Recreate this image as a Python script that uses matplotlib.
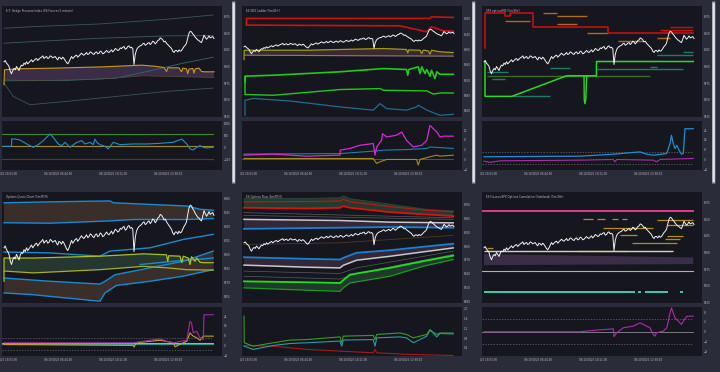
import numpy as np
import matplotlib
matplotlib.use("Agg")
import matplotlib.pyplot as plt
from matplotlib.ticker import MaxNLocator
from matplotlib.transforms import Bbox, TransformedBbox
from matplotlib.patches import FancyBboxPatch

# ---- shared series: ES price (two points per bar) ----
es_price = [6007, 6009, 6005, 6003, 6000, 5993, 5989, 5994, 5997, 5995,
            6000, 5997, 5994, 5999, 6002, 6001, 6005, 6003, 6007, 6004,
            6006, 6008, 6010, 6007, 6009, 6011, 6012, 6009, 6011, 6013,
            6014, 6016, 6012, 6014, 6015, 6012, 6013, 6016, 6015, 6013,
            6014, 6015, 6012, 6010, 6014, 6013, 6011, 6014, 6012, 6009,
            6006, 6004, 6007, 6011, 6015, 6012, 6014, 6016, 6017, 6014,
            6016, 6018, 6020, 6018, 6017, 6019, 6021, 6018, 6019, 6022,
            6021, 6019, 6018, 6021, 6022, 6019, 6020, 6023, 6022, 6019,
            6020, 6022, 6024, 6022, 6021, 6023, 6025, 6022, 6024, 6027,
            6026, 6024, 6025, 6028, 6027, 6029, 6030, 6026, 6027, 6030,
            6031, 6028, 6029, 6027, 6003, 6018, 6025, 6028, 6030, 6031,
            6032, 6034, 6035, 6032, 6033, 6035, 6036, 6033, 6035, 6038,
            6037, 6034, 6036, 6039, 6040, 6043, 6042, 6040, 6037, 6038,
            6035, 6033, 6031, 6029, 6027, 6023, 6021, 6024, 6024, 6022,
            6025, 6023, 6024, 6027, 6030, 6032, 6035, 6043, 6050, 6053,
            6052, 6049, 6047, 6044, 6042, 6040, 6039, 6037, 6036, 6041,
            6047, 6044, 6041, 6043, 6046, 6043, 6044, 6045, 6042]
time_labels = ["06/09/2025 16:53:00", "06/10/2025 06:44:00",
               "06/10/2025 10:11:00", "06/10/2025 13:38:00"]

# ---- panel 1: hedge pressure ----
hp_outer_hi_x = [0, 11.7, 38.4, 65, 83.7]
hp_outer_hi = [6057.5, 6060, 6064, 6071, 6077.5]
hp_inner_hi = [6035, 6037.5, 6042.5, 6046, 6046.5]
hp_inner_lo_x = [0, 25, 45, 58.4, 71.7, 83.7]
hp_inner_lo = [5978.5, 5979, 5982.5, 5993.5, 6005, 6014]
hp_outer_lo_x = [0, 3.7, 10.4, 25, 45, 65, 83.7]
hp_outer_lo = [5975, 5955, 5942.5, 5947.5, 5955, 5962.5, 5967.5]
hp_gold_x = [0, 0.2, 5, 20, 40, 55, 60, 64, 65, 65.5, 70, 71, 71.5, 73, 73.5,
             74, 75.5, 76, 76.5, 78, 79, 80, 84]
hp_gold = [5972.5, 5995, 5996.5, 5997.5, 5999.5, 6002, 6000.5, 5998.5, 5992.5,
           5998, 5998, 5992, 5997.5, 5996.5, 5989, 5996, 5997, 5990, 5996.5,
           5997.5, 5992.5, 5992, 5992]
hp_band_lo_x = [0.2, 11.7, 38.4, 55.7, 84]
hp_band_lo = [5980, 5978.5, 5981, 5986, 5983.5]
hp_idx_x = [0, 3.0, 3.1, 4.4, 6.4, 9.1, 11.7, 13.7, 15.7, 17.7, 18.4, 19.7, 21.7,
            23.1, 24.4, 26.4, 29.1, 31.1, 32.4, 34.4, 35.7, 36.4, 37.1, 38.4,
            40.4, 41.7, 43.7, 46.4, 51.7, 57.1, 62.4, 67.7, 71.1, 73.1, 74.4,
            75.7, 77.1, 78.4, 79.7, 81.1, 83.7]
hp_idx = [54, 54, 354, 354, 313, 150, 14, 122, 286, 490, 558, 422, 150, 82, 218,
          14, 218, 286, 150, 218, 122, 354, 218, 122, 54, -54, 218, 122, 150,
          150, 177, 218, 354, 150, -54, -95, 14, 82, 14, -14, 14]
hp_levels = [560, 50, -460]

# ---- panel 2: GEX ladder ----
gx_red_a_x = [1, 1, 74.4, 75, 83.7]
gx_red_a = [6064, 6081.5, 6081.5, 6085.5, 6084]
gx_red_b_x = [1, 62.4, 73, 75, 77, 79.7, 83.7]
gx_red_b = [6064, 6062, 6046.5, 6059.5, 6055, 6049, 6048]
gx_olive_x = [0, 0.1, 25, 55.7, 65, 65.5, 65.9, 70.4, 71.1, 71.7, 73.7, 74.4, 75,
              78.4, 83.7]
gx_olive = [5973.5, 5998, 5998, 6002.5, 6000, 5991, 5999, 5998, 5989.5, 5998,
            5996.5, 5987.5, 5998, 5994, 5992]
gx_gray_x = [0.1, 83.7]
gx_gray = [5985, 5982.5]
gx_green_a_x = [0.4, 0.4, 11.7, 38.4, 55.7, 65, 65.5, 65.9, 69.7, 70.4, 71.1,
                72.4, 73.1, 74.4, 75, 76.4, 77.1, 78.4, 83.7]
gx_green_a = [5915, 5930, 5932.5, 5941.5, 5950, 5947.5, 5932.5, 5947.5, 5954.5,
              5937, 5954.5, 5937, 5947.5, 5930, 5945.5, 5924, 5941.5, 5935, 5935]
gx_green_b_x = [0.4, 0.4, 11.7, 38.4, 54.4, 55.7, 73.1, 75.7, 78.4, 83.7]
gx_green_b = [5928, 5882, 5880, 5895, 5897.5, 5893, 5891.5, 5883, 5886, 5886]
gx_teal_x = [0.4, 0.4, 3.7, 18.4, 38.4, 51.7, 54.4, 57.1, 65, 69.1, 69.7, 73.1,
             78.4, 83.7]
gx_teal = [5827.5, 5867, 5871.5, 5865, 5849.5, 5841, 5858, 5845, 5841, 5849.5,
           5854, 5841, 5827.5, 5830]
gx_call_x = [0, 11.7, 25, 38.4, 38.5, 42.4, 46.4, 51.7, 52.4, 53.1, 55, 55.4,
             57.1, 61, 63.1, 65, 67.7, 71.1, 73.1, 74.4, 75.7, 77.1, 78.4, 79.7,
             83.7]
gx_call = [1.76, 2.2, 1.35, 1.76, 3.8, 4.5, 5.8, 6.5, 1.76, 5.1, 7.8, 10.5, 9.2,
           9.9, 11.2, 7.8, 5.1, 5.8, 7.8, 13.9, 12.6, 11.2, 9.2, 9.5, 9.5]
gx_blue_x = [0, 38.4, 51.7, 55.7, 65, 73.1, 74.4, 83.7]
gx_blue = [2.2, 2.4, 3.4, 3.8, 4.05, 4.5, 5.1, 4.5]
gx_gold_x = [0, 51.7, 53, 54.4, 57.1, 69, 69.7, 70.4, 74.4, 77.1, 78.4, 83.7]
gx_gold = [0.4, 0.4, -1.6, -0.95, 0, 0, -2.3, 0, 1.1, 1.76, 1.35, 1.76]

# ---- panel 3: SPX options levels ----
sx_red_x = [0.4, 0.4, 8.4, 8.4, 10.4, 10.4, 19.7, 19.7, 49.7, 49.7, 83.7]
sx_red = [6027.5, 6080, 6080, 6076.5, 6076.5, 6080, 6080, 6060, 6060, 6050, 6050]
sx_red_levels = [(74.4, 83.7, 6060), (70.4, 83.7, 6055)]
sx_orange_levels = [(23.7, 29.1, 6081), (29.1, 41.1, 6076), (8.4, 18.4, 6069),
                    (29.1, 37.1, 6064), (41.1, 49.7, 6050), (53.7, 63.7, 6039),
                    (69.1, 74.4, 6042.5)]
sx_teal_levels = [(79.7, 83.7, 6022.5), (69.1, 83.7, 6017.5), (66.4, 69.1, 5999),
                  (26.4, 34.4, 5997.5), (45.1, 79.7, 5996.5), (1.1, 9.7, 5991.5),
                  (3.1, 8.4, 5981), (11.1, 26.4, 5955)]
sx_olive_level = (1.1, 66.4, 5986)
sx_green_x = [0.4, 0.4, 11.1, 33, 45, 45, 83.7]
sx_green = [6007.5, 5955, 5955, 5986, 5986, 6007.5, 6007.5]
sx_spike_x = [40, 40.1, 40.4, 40.7, 41.1]
sx_spike = [5986, 5950, 5944, 5950, 5986]
sx_vol_x = [0, 38.4, 51.7, 62.4, 65, 67.7, 73.1, 74.4, 75, 75.7, 76.4, 77.1,
            78.4, 79, 79.7, 80.4, 83.7]
sx_vol = [2.2, 2.7, 4.3, 6.2, 4.3, 3.5, 4.9, 13, 19.7, 13, 8.9, 11.6, 6.2, 4.3,
          4.9, 25.1, 25.1]
sx_mag_x = [0, 2.4, 6.4, 38.4, 51.7, 52.4, 53.1, 67.7, 69, 70.4, 83.7]
sx_mag = [-1.35, -2.4, -1.1, -0.54, 0, -1.9, 0, -0.54, -1.9, 0, 0.8]
sx_dash_levels = [6.2, -4.05]

# ---- panel 4: options quant ----
qc_blue_a_x = [0, 18.4, 42.4, 43.7, 73.1, 78.4, 83.7]
qc_blue_a = [6055.5, 6056.5, 6057.5, 6055.5, 6052, 6048.5, 6047.5]
qc_blue_b_x = [0, 18.4, 42.4, 51.7, 73.1, 83.7]
qc_blue_b = [6034, 6033.5, 6036, 6037.5, 6037.5, 6038.5]
qc_blue_c_x = [0, 18.4, 38.4, 42.4, 58.4, 71.7, 83.7]
qc_blue_c = [6002.5, 6001.5, 5998, 6003.5, 6007, 6016, 6021.5]
qc_yg_hi_x = [0, 0, 11.7, 38.4, 55.7, 65, 65.5, 65.9, 70.4, 71.1, 71.7, 73.7,
              74.4, 75, 76.4, 77.1, 78.4, 79.7, 83.7]
qc_yg_hi = [5971, 5996, 5996, 5998, 6000.5, 5999.5, 5992.5, 5998.5, 5998, 5991,
            5998, 5996, 5989, 5997.5, 5992.5, 5996, 5991.5, 5991, 5991]
qc_yg_lo_x = [0, 11.7, 38.4, 55.7, 65, 73.1, 83.7]
qc_yg_lo = [5982, 5980, 5983.5, 5987, 5985.5, 5983.5, 5983]
qc_blue_d_x = [0, 18.4, 38.4, 40.4, 44.4, 58.4, 71.7, 83.7]
qc_blue_d = [5974.5, 5971, 5968, 5971, 5978, 5985.5, 5992.5, 6003.5]
qc_blue_e_x = [0, 11.7, 25, 38.4, 40.4, 45, 58.4, 71.7, 83.7]
qc_blue_e = [5958.5, 5956.5, 5953, 5949.5, 5958.5, 5966.5, 5971, 5976.5, 5983.5]
qc_blue_f_x = [54.4, 67.7, 83.7]
qc_blue_f = [5989, 5992.5, 5996]
qc_base, qc_teal = 2.2, 1.6
qc_mag_x = [0, 51.7, 62.4, 65, 67.7, 73.1, 74.4, 75, 75.7, 77.1, 78.4, 79.7, 80,
            83.7]
qc_mag = [2.2, 2.2, 5.4, 3.5, 2.2, 4.3, 19.7, 18.4, 10.3, 11.6, 6.2, 4.9, 25.1,
          25.1]
qc_yel_x = [0, 51.7, 52, 53, 62.4, 67.7, 68.4, 73.1, 74.4, 75, 75.7, 77.1, 78.4,
            79.7, 83.7]
qc_yel = [0.8, 0, -1.35, 2.2, 4.3, 2.2, -1.1, 3.5, 10.3, 8.9, 7.6, 6.2, 4.3,
          7.6, 7.6]

# ---- panel 5: options flow ----
fl_hi_x = [0, 25, 38.4, 39.7, 42.4, 58.4, 73.1, 83.7]
fl_top = [6102, 6102.5, 6104, 6108, 6102, 6090, 6079, 6075.5]
fl_red_a = [6095, 6096, 6097, 6100.5, 6095.5, 6085, 6077, 6074]
fl_red_b = [6082.5, 6081, 6082.5, 6086, 6082.5, 6073, 6068, 6064.5]
fl_gray_x = [0, 83.7]
fl_gray_a = [6072, 6061]
fl_gray_b = [6066, 6057.5]
fl_mid_x = [0, 38.4, 58.4, 83.7]
fl_white = [6057.5, 6055, 6051.5, 6050]
fl_blue = [6037, 6039.5, 6041, 6039.5]
fl_brown_x = [0, 38.4, 83.7]
fl_brown = [6003.5, 6007, 6023]
fl_lo_x = [0, 25, 38.4, 39.7, 45, 58.4, 71.7, 83.7]
fl_blue_lo = [5976, 5972.5, 5971, 5974.5, 5985.5, 5991, 5998.5, 6005]
fl_white_lo = [5959, 5954.5, 5953, 5958.5, 5969.5, 5978, 5987.5, 5996]
fl_thin_x = [0, 38.4, 45, 83.7]
fl_thin_a = [5946, 5941, 5953, 5989]
fl_thin_b = [5935, 5929, 5941, 5982]
fl_grn_x = [0, 25, 38.4, 39.7, 42.4, 58.4, 71.7, 83.7]
fl_green = [5924, 5922, 5920.5, 5926.5, 5938.5, 5953, 5967.5, 5979.5]
fl_dkgreen = [5910, 5905, 5902.5, 5910, 5920.5, 5935, 5956.5, 5971]
fl_g_x = [0, 0.1, 3.7, 11.7, 18.4, 25, 38.4, 39.1, 39.7, 51.7, 52.4, 53.1, 62.4,
          65, 67.7, 70.4, 73.1, 74.4, 75.7, 77.1, 78.4, 83.7]
fl_g = [1.69, 0.61, 0.47, 0.61, 0.72, 0.74, 0.85, 0.61, 0.88, 0.91, 0.74, 0.95,
        1.01, 0.95, 0.81, 0.88, 0.95, 1.15, 1.04, 0.95, 1.01, 1.01]
fl_t_x = [0, 3.7, 11.7, 18.4, 25, 38.4, 39.1, 39.7, 51.7, 52.4, 53.1, 62.4, 65,
          67.7, 70.4, 73.1, 74.4, 75.7, 77.1, 78.4, 83.7]
fl_t = [0.47, 0.34, 0.5, 0.58, 0.61, 0.68, 0.47, 0.72, 0.74, 0.47, 0.81, 0.85,
        0.81, 0.61, 0.74, 0.88, 1.12, 1.01, 0.85, 0.99, 0.97]
fl_r_x = [0, 11.7, 25, 38.4, 51.7, 52.4, 53.1, 65, 83.7]
fl_r = [0.5, 0.47, 0.34, 0.27, 0.2, 0.34, 0.2, 0.14, 0.09]

# ---- panel 6: cumulative orderbook ----
ob_pink = 6062.5
ob_gold_levels = [(39.7, 43.7, 6050), (45.1, 48.4, 6050), (51.1, 53.7, 6050),
                  (55.1, 57.1, 6050), (69.1, 83.7, 6048.5), (73.1, 83.7, 6041.5),
                  (47.7, 67.7, 6037.5), (54.4, 61, 6026.5), (73.1, 79.7, 6025),
                  (72.4, 78.4, 6020), (59.1, 77.1, 6015), (1.1, 3.7, 6007.5),
                  (37.1, 57.1, 6002.5)]
ob_white_level = (0, 75.7, 6001.5)
ob_band_x = [0, 83.7]
ob_band_hi = [5997.5, 5992.5]
ob_band_lo = [5981, 5982.5]
ob_gray = 5972.5
ob_teal_levels = [(0, 60.4, 5941), (61.7, 62.7, 5941), (64.4, 73.7, 5941),
                  (78.4, 79.7, 5941)]
ob_net_x = [0, 38.4, 41, 45, 49, 51.7, 52, 53.1, 55.7, 59.7, 62.4, 63.7, 65,
            66.4, 67.7, 68.4, 69, 71.7, 73.1, 73.7, 74.4, 75, 75.7, 76.4, 77.1,
            78.4, 79, 79.7, 81.1, 83.7]
ob_net = [0, 0, 0.27, 0.68, 0.95, 1.2, -2.0, -0.4, 1.6, 2.3, 3.6, 3.0, 2.3, 1.6,
          -1.1, -1.8, -0.4, 0.27, 1.6, 4.3, 7.7, 9.7, 7.7, 5.7, 5.0, 3.6, 3.0,
          4.3, 6.35, 6.35]
ob_dash = [5.3, -4.9]

# ---- layout ----
W, H = 720, 372
FIG_BG = "#2b2c39"
PLOT_BG = "#16171e"
TXT = "#b8b8c4"
XLIM = (-0.8, 87.2)
TICK_POS = [-0.3, 21.7, 43.7, 65.7]

fig = plt.figure(figsize=(W / 100, H / 100), dpi=100, facecolor=FIG_BG)
x_idx = np.arange(len(es_price)) / 2


def px_axes(x0, y0, x1, y1):
    return fig.add_axes([x0 / W, 1 - y1 / H, (x1 - x0) / W, (y1 - y0) / H])


def style(ax, ylim, nbins):
    ax.set_facecolor(PLOT_BG)
    for s in ax.spines.values():
        s.set_visible(False)
    ax.set_xlim(*XLIM)
    ax.set_ylim(*ylim)
    ax.yaxis.tick_right()
    ax.yaxis.set_major_locator(MaxNLocator(nbins))
    ax.tick_params(labelsize=2, colors=TXT, length=0, pad=1.5)


def make_panel(col, row, title, ylim, sub_ylim):
    ox, oy = col * 240, row * 186
    ax = px_axes(ox + 2, oy + 6, ox + 222, oy + 117)
    sub = px_axes(ox + 2, oy + 121, ox + 222, oy + 170)
    style(ax, ylim, 8)
    style(sub, sub_ylim, 5)
    ax.set_xticks([])
    sub.set_xticks(TICK_POS)
    sub.set_xticklabels(time_labels)
    clip = TransformedBbox(Bbox.from_extents(ox / W, 0, (ox + 238) / W, 1),
                           fig.transFigure)
    for lbl in sub.get_xticklabels():
        lbl.set_clip_box(clip)
        lbl.set_clip_on(True)
    ax.text(0.02, 0.955, title, transform=ax.transAxes, fontsize=2,
            color=TXT, va="center")
    # scrollbar
    fig.patches.append(FancyBboxPatch(((ox + 232.5) / W, 1 - 183 / H),
                                      2.5 / W, 181 / H,
                                      boxstyle="round,pad=0,rounding_size=0.004",
                                      transform=fig.transFigure,
                                      facecolor="#e4e4ea", edgecolor="#9a9aa6",
                                      lw=0.3))
    return ax, sub


def band(ax, xu, yu, xl, yl, color, alpha=1.0):
    ax.fill(list(xu) + list(xl)[::-1], list(yu) + list(yl)[::-1],
            color=color, alpha=alpha, lw=0)


def levels(ax, segs, color, lw=1.0):
    for x0, x1, y in segs:
        ax.plot([x0, x1], [y, y], color=color, lw=lw, solid_capstyle="butt")


def hline(ax, y, color, lw=0.6, ls="-"):
    ax.plot([XLIM[0], 83.7], [y, y], color=color, lw=lw, ls=ls)


def price(ax):
    ax.plot(x_idx, es_price, color="#f2f2f2", lw=0.7)


# panel 1
ax, sub = make_panel(0, 0, "E.T. Hedge Pressure Index (ES Futures 5 minute)",
                     (5924, 6091), (-920, 1095))
ax.plot(hp_outer_hi_x, hp_outer_hi, color="#3b5658", lw=0.6)
ax.plot(hp_outer_hi_x, hp_inner_hi, color="#3b5c5e", lw=0.6)
ax.plot(hp_inner_lo_x, hp_inner_lo, color="#2f6a70", lw=0.6)
ax.plot(hp_outer_lo_x, hp_outer_lo, color="#3b5658", lw=0.6)
band(ax, hp_gold_x[1:], hp_gold[1:], hp_band_lo_x, hp_band_lo, "#3b2c47")
ax.plot(hp_band_lo_x, hp_band_lo, color="#5a4a3a", lw=0.5)
ax.plot(hp_gold_x, hp_gold, color="#c89a1e", lw=0.8)
price(ax)
hline(sub, hp_levels[0], "#3d8a2a", 0.8)
hline(sub, hp_levels[1], "#a08a2a", 0.8)
hline(sub, hp_levels[2], "#a01818", 0.8)
sub.plot(hp_idx_x, hp_idx, color="#1f8fcf", lw=0.8)

# panel 2
ax, sub = make_panel(1, 0, "ES GEX Ladder (5m/2Hr)", (5823, 6114), (-4.3, 15.7))
ax.plot(gx_red_a_x, gx_red_a, color="#d01010", lw=1.2)
ax.plot(gx_red_b_x, gx_red_b, color="#d01010", lw=1.2)
band(ax, gx_olive_x[1:], gx_olive[1:], gx_gray_x, gx_gray, "#3a2a2c")
ax.plot(gx_gray_x, gx_gray, color="#8a7a80", lw=0.8)
ax.plot(gx_olive_x, gx_olive, color="#a09a20", lw=0.9)
ax.plot(gx_green_a_x, gx_green_a, color="#22c81e", lw=1.2)
ax.plot(gx_green_b_x, gx_green_b, color="#22c81e", lw=1.0)
ax.plot(gx_teal_x, gx_teal, color="#1b6e8e", lw=0.9)
price(ax)
hline(sub, 0, "#6a6a70", 0.5)
sub.plot(gx_gold_x, gx_gold, color="#a88a1a", lw=0.8)
sub.plot(gx_blue_x, gx_blue, color="#1a80b0", lw=0.8)
sub.plot(gx_call_x, gx_call, color="#d42ad4", lw=0.9)

# panel 3
ax, sub = make_panel(2, 0, "SPX optionsMX (5m/2Hr)", (5924, 6091), (-8.6, 31.4))
levels(ax, sx_orange_levels, "#b8661a", 1.0)
levels(ax, sx_teal_levels, "#1f7a66", 1.0)
levels(ax, [sx_olive_level], "#3a6a22", 1.0)
levels(ax, sx_red_levels, "#c01010", 1.0)
ax.plot(sx_red_x, sx_red, color="#d01010", lw=1.1)
ax.plot(sx_green_x, sx_green, color="#2ad82a", lw=1.1)
ax.plot(sx_spike_x, sx_spike, color="#2ad82a", lw=1.0)
price(ax)
for y in sx_dash_levels:
    hline(sub, y, "#6a6a70", 0.5, (0, (2, 2)))
sub.plot(sx_mag_x, sx_mag, color="#b02ab0", lw=0.8)
sub.plot(sx_vol_x, sx_vol, color="#1f8fcf", lw=0.9)

# panel 4
ax, sub = make_panel(0, 1, "Options Quant Chart (5m/RTH)", (5947.6, 6067.1),
                     (-8.6, 31.4))
band(ax, qc_blue_a_x, qc_blue_a, qc_blue_b_x, qc_blue_b, "#3a2e2a")
band(ax, qc_yg_hi_x[1:], qc_yg_hi[1:], qc_yg_lo_x, qc_yg_lo, "#26372f")
band(ax, qc_blue_d_x, qc_blue_d, qc_blue_e_x, qc_blue_e, "#3a2e2a")
for bx, by in [(qc_blue_a_x, qc_blue_a), (qc_blue_b_x, qc_blue_b),
               (qc_blue_c_x, qc_blue_c), (qc_blue_d_x, qc_blue_d),
               (qc_blue_e_x, qc_blue_e), (qc_blue_f_x, qc_blue_f)]:
    ax.plot(bx, by, color="#1a8ad0", lw=1.0)
ax.plot(qc_yg_hi_x, qc_yg_hi, color="#a8c020", lw=0.9)
ax.plot(qc_yg_lo_x, qc_yg_lo, color="#a8b020", lw=0.9)
price(ax)
for y in sx_dash_levels:
    hline(sub, y, "#6a6a70", 0.5, (0, (2, 2)))
hline(sub, qc_teal, "#2a9a90", 0.8)
hline(sub, qc_base, "#c8c8c8", 0.6)
sub.plot(qc_yel_x, qc_yel, color="#c8a020", lw=0.8)
sub.plot(qc_mag_x, qc_mag, color="#a02aa0", lw=0.8)

# panel 5
ax, sub = make_panel(1, 1, "ES Options Flow (5m/RTH)", (5877.4, 6116.4),
                     (0.07, 2.07))
band(ax, fl_hi_x, fl_top, fl_hi_x, fl_red_b, "#243a30")
ax.plot(fl_hi_x, fl_top, color="#2a4a38", lw=0.6)
ax.plot(fl_hi_x, fl_red_a, color="#c01818", lw=0.8)
ax.plot(fl_hi_x, fl_red_b, color="#e01010", lw=1.3)
ax.plot(fl_gray_x, fl_gray_a, color="#5a5a60", lw=0.5)
ax.plot(fl_gray_x, fl_gray_b, color="#5a5a60", lw=0.5)
band(ax, fl_mid_x, fl_white, fl_mid_x, fl_blue, "#33283a")
ax.plot(fl_mid_x, fl_white, color="#c8c8cc", lw=1.1)
ax.plot(fl_mid_x, fl_blue, color="#1a80d0", lw=1.3)
ax.plot(fl_brown_x, fl_brown, color="#4a3a22", lw=0.6)
band(ax, fl_lo_x, fl_blue_lo, fl_lo_x, fl_white_lo, "#33283a")
ax.plot(fl_lo_x, fl_blue_lo, color="#1a80d0", lw=1.3)
ax.plot(fl_lo_x, fl_white_lo, color="#c8c8cc", lw=1.1)
ax.plot(fl_thin_x, fl_thin_a, color="#5a5a60", lw=0.5)
ax.plot(fl_thin_x, fl_thin_b, color="#5a5a60", lw=0.5)
band(ax, fl_grn_x, fl_green, fl_grn_x, fl_dkgreen, "#1f3a28")
ax.plot(fl_grn_x, fl_green, color="#22dd22", lw=1.3)
ax.plot(fl_grn_x, fl_dkgreen, color="#1a9a22", lw=0.9)
price(ax)
sub.plot(fl_r_x, fl_r, color="#a01c1c", lw=0.8)
sub.plot(fl_t_x, fl_t, color="#2a9aa8", lw=0.8)
sub.plot(fl_g_x, fl_g, color="#3a9a2a", lw=0.8)

# panel 6
ax, sub = make_panel(2, 1, "ES Futures/SPX Options Cumulative Orderbook (5m/2Hr)",
                     (5924, 6091), (-9.9, 10.1))
hline(ax, ob_pink, "#e0388a", 1.4)
band(ax, ob_band_x, ob_band_hi, ob_band_x, ob_band_lo, "#3a2d48")
levels(ax, ob_gold_levels, "#b88a1a", 0.9)
levels(ax, [ob_white_level], "#d8d0c0", 1.0)
hline(ax, ob_gray, "#b0b0b0", 0.8)
levels(ax, ob_teal_levels, "#3ad0a0", 1.4)
price(ax)
for y in ob_dash:
    hline(sub, y, "#6a6a70", 0.5, (0, (2, 2)))
hline(sub, 0, "#8a8a90", 0.6)
sub.plot(ob_net_x, ob_net, color="#b02ab0", lw=0.8)

fig.savefig("out.png", dpi=100, facecolor=FIG_BG)
